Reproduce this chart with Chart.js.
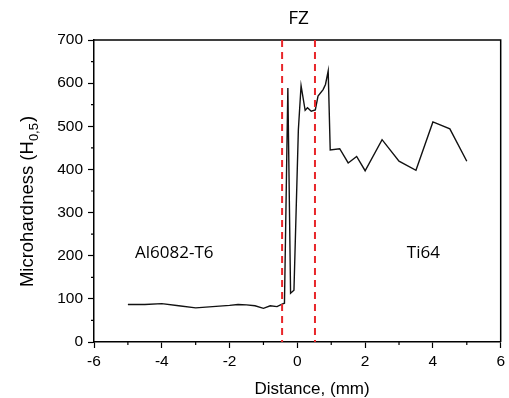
<!DOCTYPE html>
<html>
<head>
<meta charset="utf-8">
<script src="https://cdn.jsdelivr.net/npm/chart.js@4.4.1/dist/chart.umd.min.js"></script>
<style>
    html, body { margin: 0; padding: 0; background: #fff; }
    #wrap { width: 509px; height: 398px; }
</style>
</head>
<body>
<div id="wrap"><canvas id="chart"></canvas></div>
<script>
// distance from weld centre (mm) and microhardness readings
var distance = [-5, -4.5, -4, -3.5, -3, -2.5, -2, -1.75, -1.5, -1.25, -1, -0.8, -0.6, -0.45, -0.38,
    -0.28, -0.2, -0.1, 0.03, 0.11, 0.23, 0.3, 0.41, 0.53, 0.61, 0.76, 0.83, 0.91,
    0.97, 1.25, 1.5, 1.75, 2, 2.5, 3, 3.5, 4, 4.5, 5];
var hardness = [87, 87, 89, 84, 79, 82, 85, 87, 86, 84, 78, 84, 82, 88, 90,
    589, 113, 120, 492, 594, 537, 543, 535, 538, 570, 585, 597, 628,
    445, 448, 415, 430, 397, 469, 419, 398, 510, 494, 419];

var fzBounds = [-0.45, 0.52];   // fusion zone limits (mm)
var xMinorTicks = [-5, -3, -1, 1, 3, 5];
var yMinorTicks = [50, 150, 250, 350, 450, 550, 650];
var notes = [
    { text: 'Al6082-T6', x: -3.63, y: 207 },
    { text: 'Ti64', x: 3.72, y: 207 }
];

var points = distance.map(function (d, i) { return { x: d, y: hardness[i] }; });

var decor = {
    id: 'decor',
    afterDraw: function (chart) {
        var c = chart.ctx, a = chart.chartArea;
        var xs = chart.scales.x, ys = chart.scales.y;
        c.save();

        // frame top + right
        c.strokeStyle = '#000';
        c.lineWidth = 1.5;
        c.beginPath();
        c.moveTo(a.left, a.top); c.lineTo(a.right, a.top); c.lineTo(a.right, a.bottom);
        c.stroke();

        // minor ticks
        c.lineWidth = 1.2;
        c.beginPath();
        xMinorTicks.forEach(function (v) {
            var px = xs.getPixelForValue(v);
            c.moveTo(px, a.bottom); c.lineTo(px, a.bottom + 3);
        });
        yMinorTicks.forEach(function (v) {
            var py = ys.getPixelForValue(v);
            c.moveTo(a.left, py); c.lineTo(a.left - 3, py);
        });
        c.stroke();

        // FZ dashed lines
        c.strokeStyle = '#e8262a';
        c.lineWidth = 2;
        c.setLineDash([7, 5]);
        fzBounds.forEach(function (v) {
            var px = xs.getPixelForValue(v);
            c.beginPath(); c.moveTo(px, a.top); c.lineTo(px, a.bottom); c.stroke();
        });
        c.setLineDash([]);

        // annotations
        c.fillStyle = '#000';
        c.font = '17px "Open Sans"';
        c.textAlign = 'center';
        c.textBaseline = 'middle';
        notes.forEach(function (n) {
            c.fillText(n.text, xs.getPixelForValue(n.x), ys.getPixelForValue(n.y));
        });
        c.font = '19px "Open Sans"';
        c.fillText('FZ', xs.getPixelForValue((fzBounds[0] + fzBounds[1]) / 2), 19);

        // axis titles
        c.font = '17px "Liberation Sans"';
        c.fillText('Distance, (mm)', 312, 389);

        c.translate(28, 202);
        c.rotate(-Math.PI / 2);
        var main = 'Microhardness (H', sub = '0,5', end = ')';
        c.font = '18.5px "Liberation Sans"';
        var w1 = c.measureText(main).width, w3 = c.measureText(end).width;
        c.font = '13px "Liberation Sans"';
        var w2 = c.measureText(sub).width;
        var x0 = -(w1 + w2 + w3) / 2;
        c.textAlign = 'left';
        c.font = '18.5px "Liberation Sans"';
        c.fillText(main, x0, 0);
        c.font = '13px "Liberation Sans"';
        c.fillText(sub, x0 + w1, 6);
        c.font = '18.5px "Liberation Sans"';
        c.fillText(end, x0 + w1 + w2 + 1, 0);
        c.restore();
    }
};

var chart = new Chart(document.getElementById('chart').getContext('2d'), {
    type: 'scatter',
    data: {
        datasets: [{
            data: points,
            showLine: true,
            borderColor: '#111',
            borderWidth: 1.4,
            pointRadius: 0,
            tension: 0
        }]
    },
    options: {
        responsive: true,
        maintainAspectRatio: false,
        animation: false,
        layout: { padding: { left: 0, right: 5, top: 40, bottom: 0 } },
        plugins: { legend: { display: false }, tooltip: { enabled: false } },
        scales: {
            x: {
                type: 'linear',
                min: -6, max: 6,
                afterFit: function (s) { s.height = 56; },
                ticks: { stepSize: 2, color: '#000', padding: 4, font: { family: 'Liberation Sans', size: 15.5 } },
                grid: { drawOnChartArea: false, color: '#000', tickLength: 6, tickWidth: 1.2 },
                border: { color: '#000', width: 1.5 }
            },
            y: {
                min: 0, max: 700,
                afterFit: function (s) { s.width = 94; },
                ticks: { stepSize: 100, color: '#000', padding: 5, font: { family: 'Liberation Sans', size: 15.5 } },
                grid: { drawOnChartArea: false, color: '#000', tickLength: 6, tickWidth: 1.2 },
                border: { color: '#000', width: 1.5 }
            }
        }
    },
    plugins: [decor]
});
</script>
</body>
</html>
